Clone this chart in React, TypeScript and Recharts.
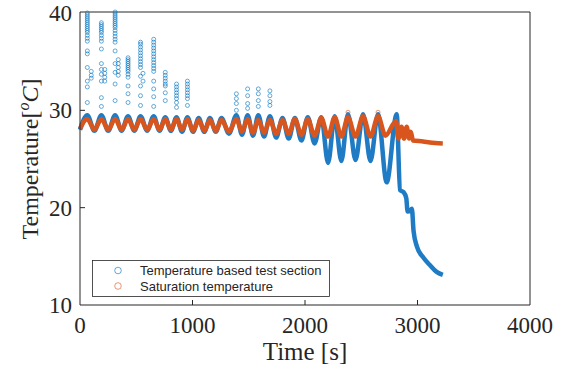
import React from 'react';
import { ComposedChart, Line, Scatter, XAxis, YAxis, Legend } from 'recharts';

const xTicks = [0, 1000, 2000, 3000, 4000];
const yTicks = [10, 20, 30, 40];

// Saturation temperature (orange band)
const satTime = [
  0, 65, 128, 190, 251, 312, 370, 427, 483, 538, 597, 655, 707, 758, 808, 858, 907, 955,
  1005, 1055, 1105, 1155, 1207, 1258, 1324, 1390, 1440, 1490, 1538, 1585, 1636, 1688, 1744,
  1800, 1855, 1910, 1968, 2025, 2085, 2145, 2205, 2264, 2323, 2382, 2449, 2516, 2582, 2649,
  2715, 2810, 2830, 2858, 2880, 2904, 2925, 2940, 2960, 3050, 3110, 3225,
];
const satTemp = [
  28.1, 29.1, 28.0, 29.1, 28.0, 29.1, 28.0, 29.1, 28.0, 29.1, 28.0, 29.1, 28.0, 29.1, 28.0, 29.1, 28.0, 29.1,
  27.9, 29.0, 27.9, 29.0, 27.9, 29.0, 27.8, 29.1, 27.8, 29.1, 27.7, 29.0, 27.7, 29.0, 27.6,
  29.0, 27.6, 29.1, 27.5, 29.1, 27.4, 29.2, 27.3, 29.3, 27.3, 29.3, 27.3, 29.4, 27.3, 29.4,
  27.4, 28.9, 27.1, 28.3, 27.1, 28.3, 27.1, 27.8, 26.9, 26.8, 26.7, 26.6,
];

// Temperature based test section (blue band)
const testTime = [
  0, 65, 128, 190, 251, 312, 370, 427, 483, 538, 597, 655, 707, 758, 808, 858, 907, 955,
  1005, 1055, 1105, 1155, 1207, 1258, 1324, 1390, 1440, 1490, 1538, 1585, 1636, 1688, 1744,
  1800, 1855, 1910, 1968, 2025, 2085, 2145, 2205, 2264, 2323, 2382, 2449, 2516, 2582, 2649,
  2726, 2815, 2845, 2875, 2900, 2912, 2935, 2950, 2965, 2995, 3050, 3110, 3170, 3225,
];
const testTemp = [
  28.0, 29.5, 27.9, 29.5, 27.9, 29.5, 27.9, 29.4, 27.9, 29.4, 27.9, 29.4, 27.9, 29.3, 27.9, 29.3, 27.8, 29.3,
  27.8, 29.2, 27.8, 29.2, 27.8, 29.2, 27.6, 29.5, 27.5, 29.5, 27.4, 29.5, 27.3, 29.4, 27.2,
  29.2, 27.1, 29.2, 26.9, 29.3, 26.6, 29.3, 24.6, 29.4, 24.8, 29.6, 24.9, 29.6, 24.8, 29.6,
  22.6, 29.6, 21.8, 21.6, 21.0, 19.6, 19.7, 19.9, 17.6, 16.0, 14.9, 14.1, 13.4, 13.1,
];

// scattered high readings of the test section, one column per time
const spikeTime = [65, 100, 190, 220, 312, 340, 427, 538, 560, 655, 758, 858, 955, 1390, 1490, 1585, 1688];
const spikeTemp = [
  [40.0, 39.8, 39.6, 39.4, 39.2, 39.0, 38.8, 38.6, 38.4, 38.2, 38.0, 37.7, 37.4, 37.1, 36.1, 35.8, 34.4, 33.0, 32.4, 30.8],
  [34.0, 33.6, 33.3],
  [39.0, 38.8, 38.6, 38.4, 38.2, 38.0, 37.7, 37.4, 37.1, 36.3, 34.8, 34.2, 33.7, 33.0, 31.3, 30.4],
  [34.2, 33.8, 33.4, 33.0],
  [40.1, 39.9, 39.7, 39.5, 39.3, 39.1, 38.9, 38.7, 38.5, 38.2, 37.9, 37.6, 37.3, 37.0, 36.1, 34.8, 33.9, 32.7, 31.0],
  [35.2, 34.8, 34.4, 34.0, 33.6],
  [35.4, 35.2, 35.0, 34.8, 34.6, 34.4, 34.2, 34.0, 33.7, 33.4, 32.5, 31.7, 30.8],
  [37.0, 36.8, 36.5, 36.2, 35.9, 35.6, 35.3, 35.0, 34.7, 34.4, 33.5, 32.5, 31.5, 30.5],
  [33.8, 33.0],
  [37.3, 37.0, 36.7, 36.4, 36.1, 35.8, 35.5, 35.2, 34.9, 34.6, 34.3, 34.0, 33.0, 32.2, 31.4, 30.4],
  [33.9, 33.6, 33.3, 33.0, 32.7, 32.5, 31.8, 31.0],
  [32.7, 32.4, 32.1, 31.8, 31.5, 31.2, 30.8, 30.3],
  [33.0, 32.7, 32.4, 32.1, 31.8, 31.5, 31.2, 30.5],
  [31.7, 31.2, 30.7, 30.0],
  [32.2, 31.5, 30.7, 30.2],
  [32.2, 31.7, 31.0, 30.4],
  [32.0, 31.5, 30.9, 30.5],
];

const satSpikeTime = [2382, 2649];
const satSpikeTemp = [29.8, 29.8];

const BLUE = '#0072BD';
const ORANGE = '#D95319';
const AXIS = '#262626';
const SERIF = '"Liberation Serif", "Times New Roman", serif';

const satData = satTime.map((t, i) => ({ t, v: satTemp[i] }));
const testData = testTime.map((t, i) => ({ t, v: testTemp[i] }));
const spikeData = spikeTime.flatMap((t, i) => spikeTemp[i].map((v) => ({ t, v })));
const satSpikeData = satSpikeTime.map((t, i) => ({ t, v: satSpikeTemp[i] }));

const hollow = (color: string) => (p: any) => (
  <circle cx={p.cx} cy={p.cy} r={2} fill="none" stroke={color} strokeWidth={0.8} strokeOpacity={0.75} />
);

function BottomTick(p: any) {
  const v = p.payload.value;
  return (
    <g>
      {v > 0 && v < 4000 && <line x1={p.x} x2={p.x} y1={p.y} y2={p.y - 5} stroke={AXIS} />}
      <text x={p.x} y={p.y + 28} textAnchor="middle" fontFamily={SERIF} fontSize={23} fill={AXIS}>
        {v}
      </text>
    </g>
  );
}

function TopTick(p: any) {
  const v = p.payload.value;
  if (v <= 0 || v >= 4000) return <g />;
  return <line x1={p.x} x2={p.x} y1={p.y} y2={p.y + 5} stroke={AXIS} />;
}

function LeftTick(p: any) {
  const v = p.payload.value;
  return (
    <g>
      {v > 10 && v < 40 && <line x1={p.x} x2={p.x + 5} y1={p.y} y2={p.y} stroke={AXIS} />}
      <text x={p.x - 8} y={p.y + 8} textAnchor="end" fontFamily={SERIF} fontSize={23} fill={AXIS}>
        {v}
      </text>
    </g>
  );
}

function RightTick(p: any) {
  const v = p.payload.value;
  if (v <= 10 || v >= 40) return <g />;
  return <line x1={p.x} x2={p.x - 5} y1={p.y} y2={p.y} stroke={AXIS} />;
}

function LegendBox() {
  return (
    <svg width={239} height={38} style={{ display: 'block' }}>
      <rect x={0.5} y={0.5} width={237} height={36} fill="#fff" stroke={AXIS} strokeWidth={0.8} />
      <circle cx={26} cy={10.5} r={3.3} fill="none" stroke={BLUE} strokeOpacity={0.6} />
      <text x={48} y={15} fontFamily='"Liberation Sans", Arial, sans-serif' fontSize={13} fill={AXIS}>
        Temperature based test section
      </text>
      <circle cx={26} cy={26} r={3.3} fill="none" stroke={ORANGE} strokeOpacity={0.6} />
      <text x={48} y={30.5} fontFamily='"Liberation Sans", Arial, sans-serif' fontSize={13} fill={AXIS}>
        Saturation temperature
      </text>
    </svg>
  );
}

export default function App() {
  return (
    <div style={{ position: 'absolute', left: 0, top: 0, width: 566, height: 376, background: '#fff' }}>
      <ComposedChart width={566} height={376} margin={{ top: 11, right: 35, bottom: 0, left: 0 }}>
        <XAxis
          xAxisId={0}
          dataKey="t"
          type="number"
          domain={[0, 4000]}
          ticks={xTicks}
          interval={0}
          height={71}
          tickSize={0}
          tickMargin={0}
          tickLine={false}
          axisLine={{ stroke: AXIS }}
          tick={BottomTick}
          label={{
            content: (props: any) => {
              const vb = props.viewBox;
              return (
                <text x={vb.x + vb.width / 2} y={vb.y + 55} textAnchor="middle" fontFamily={SERIF} fontSize={25} fill={AXIS}>
                  Time [s]
                </text>
              );
            },
          }}
        />
        <XAxis
          xAxisId="top"
          orientation="top"
          type="number"
          domain={[0, 4000]}
          ticks={xTicks}
          interval={0}
          height={1}
          tickSize={0}
          tickMargin={0}
          tickLine={false}
          axisLine={{ stroke: AXIS }}
          tick={TopTick}
        />
        <YAxis
          yAxisId={0}
          type="number"
          domain={[10, 40]}
          ticks={yTicks}
          interval={0}
          width={80}
          tickSize={0}
          tickMargin={0}
          tickLine={false}
          axisLine={{ stroke: AXIS }}
          tick={LeftTick}
          label={{
            content: () => (
              <text
                x={38}
                y={159}
                transform="rotate(-90, 38, 159)"
                textAnchor="middle"
                fontFamily={SERIF}
                fontSize={24}
                fill={AXIS}
              >
                Temperature[
                <tspan fontStyle="italic" fontSize={16} dy={-9}>o</tspan>
                <tspan fontStyle="italic" dy={9}>C</tspan>]
              </text>
            ),
          }}
        />
        <YAxis
          yAxisId="right"
          orientation="right"
          type="number"
          domain={[10, 40]}
          ticks={yTicks}
          interval={0}
          width={1}
          tickSize={0}
          tickMargin={0}
          tickLine={false}
          axisLine={{ stroke: AXIS }}
          tick={RightTick}
        />
        <Line
          data={testData}
          dataKey="v"
          type="monotone"
          stroke="#1f7cc4"
          strokeWidth={4.5}
          dot={false}
          isAnimationActive={false}
        />
        <Scatter data={spikeData} dataKey="v" shape={hollow(BLUE)} isAnimationActive={false} />
        <Line
          data={satData}
          dataKey="v"
          type="monotone"
          stroke="#d8561d"
          strokeWidth={4.5}
          dot={false}
          isAnimationActive={false}
        />
        <Scatter data={satSpikeData} dataKey="v" shape={hollow(ORANGE)} isAnimationActive={false} />
        <Legend
          layout="horizontal"
          verticalAlign="middle"
          align="center"
          wrapperStyle={{ left: 92, top: 260, width: 239, height: 38 }}
          content={() => <LegendBox />}
        />
      </ComposedChart>
    </div>
  );
}
